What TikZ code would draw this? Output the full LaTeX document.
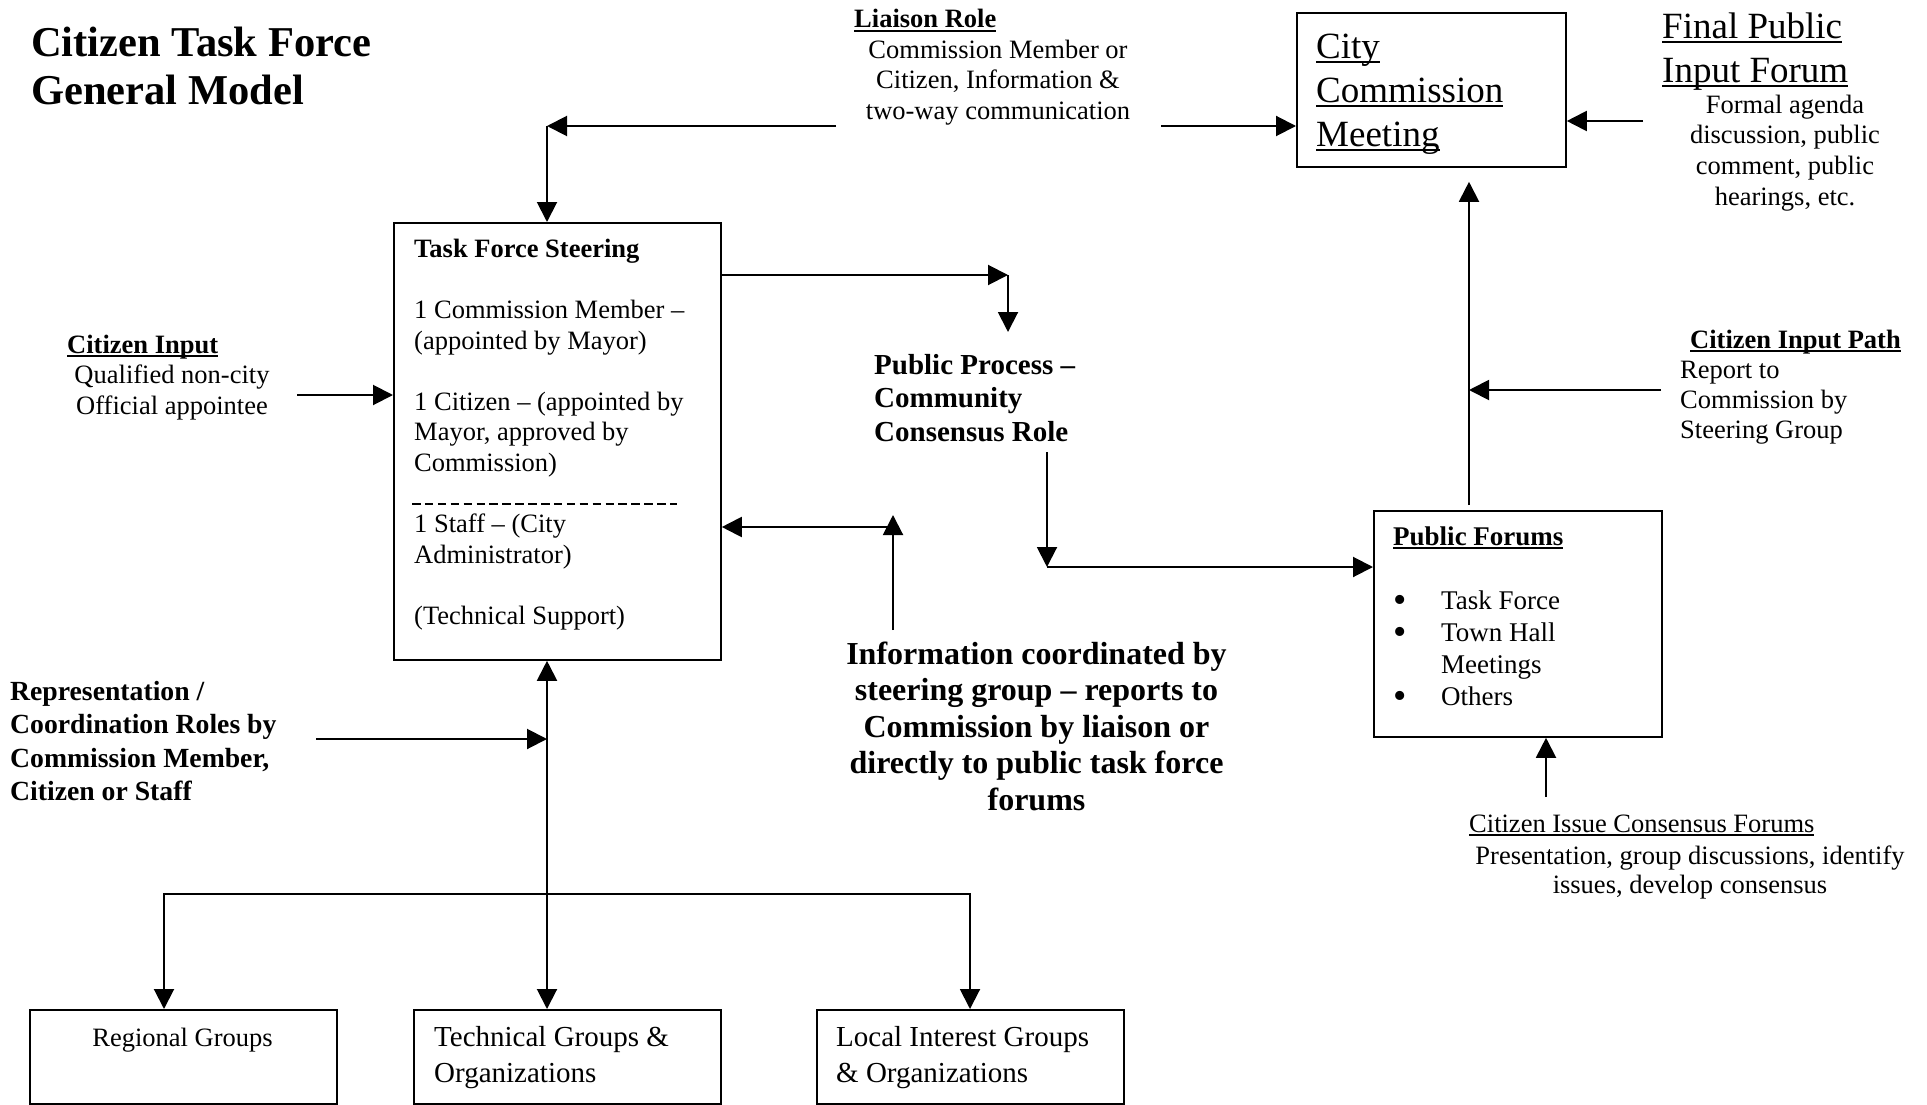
\documentclass[tikz,border=0pt]{standalone}
\usepackage{fontspec}
\setmainfont{Liberation Serif}
\usetikzlibrary{arrows.meta}
\newsavebox\ulbox
\newcommand\undl[1]{\sbox\ulbox{#1}\rlap{\rule[-0.14em]{\wd\ulbox}{0.06em}}\usebox\ulbox}
\newcommand\fl{\rule{0pt}{1em}}
\newcommand\fsz[2]{\fontsize{#1pt}{#2pt}\selectfont}
\newcommand\bul{\makebox[48pt][l]{\smash{\raisebox{-3.5pt}{\fsz{38}{32}•}}}}
\begin{document}
\begin{tikzpicture}[x=1pt, y=-1pt,
  box/.style={draw, line width=1.8pt, inner sep=0pt, anchor=north west},
  txt/.style={inner sep=0pt, anchor=north west, align=left},
  body/.style={font=\fsz{26.5}{30.6}},
  arr/.style={line width=2pt, -{Triangle[length=20pt, width=20pt]}}]
  \useasboundingbox (0,0) rectangle (1927,1105);

  % title and top row
  \node[txt, font=\bfseries\fsz{42.5}{48.5}] (title) at (31,13.5) {\fl Citizen Task Force\\General Model};
  \node[inner sep=0pt, anchor=base west, body] (liaisonhd) at (854,28) {\undl{\textbf{Liaison Role}}};
  \node[txt, anchor=north, align=center, body] (liaison) at (998,31.5) {\fl Commission Member or\\Citizen, Information \&\\two-way communication};
  \node[box, minimum width=269pt, minimum height=154pt] (city) at (1296,12) {};
  \node[txt, font=\fsz{37}{44}] (citytxt) at (1316,21) {\fl\undl{City}\\\undl{Commission}\\\undl{Meeting}};
  \node[txt, font=\fsz{37}{44}] (final) at (1662,1) {\fl\undl{Final Public}\\\undl{Input Forum}};
  \node[txt, anchor=north, align=center, body] (formal) at (1785,86.5) {\fl Formal agenda\\discussion, public\\comment, public\\hearings, etc.};

  % steering group
  \node[box, minimum width=327pt, minimum height=437pt] (steer) at (393,222) {};
  \node[txt, body] (steertxt) at (414,230.5) {\fl\textbf{Task Force Steering}\\\mbox{}\\1 Commission Member –\\(appointed by Mayor)\\\mbox{}\\1 Citizen – (appointed by\\Mayor, approved by\\Commission)\\\mbox{}\\1 Staff – (City\\Administrator)\\\mbox{}\\(Technical Support)};
  \draw[line width=1.2pt, dash pattern=on 8.5pt off 4.4pt] (412,504) -- (677,504);
  \node[inner sep=0pt, anchor=base west, body] (citinhd) at (67,353) {\undl{\textbf{Citizen Input}}};
  \node[txt, anchor=north, align=center, font=\fsz{26.5}{30.5}] (citin) at (172,357) {\fl Qualified non-city\\Official appointee};

  % middle labels
  \node[txt, font=\bfseries\fsz{29}{33.5}] (pp) at (874,345) {\fl Public Process –\\Community\\Consensus Role};
  \node[txt, anchor=north, align=center, font=\bfseries\fsz{32}{36.5}] (info) at (1036.5,632) {\fl Information coordinated by\\steering group – reports to\\Commission by liaison or\\directly to public task force\\forums};
  \node[txt, font=\bfseries\fsz{27.7}{33.4}] (rep) at (10,672.3) {\fl Representation /\\Coordination Roles by\\Commission Member,\\Citizen or Staff};

  % right column
  \node[inner sep=0pt, anchor=base west, body] (ciphd) at (1690,348) {\undl{\textbf{Citizen Input Path}}};
  \node[txt, font=\fsz{26.5}{30}] (cip) at (1680,352) {\fl Report to\\Commission by\\Steering Group};
  \node[box, minimum width=288pt, minimum height=226pt] (forums) at (1373,510) {};
  \node[txt, font=\fsz{27}{32}] (forumstxt) at (1393,518) {\fl\undl{\textbf{Public Forums}}\\\mbox{}\\\bul Task Force\\\bul Town Hall\\\hspace*{48pt}Meetings\\\bul Others};
  \node[inner sep=0pt, anchor=base west, body] (cicfhd) at (1469,832) {\undl{Citizen Issue Consensus Forums}};
  \node[txt, anchor=north, align=center, font=\fsz{26.5}{29.5}] (cicf) at (1690,837.5) {\fl Presentation, group discussions, identify\\issues, develop consensus};

  % groups
  \node[box, minimum width=307pt, minimum height=94pt] (reg) at (29,1009) {};
  \node[inner sep=0pt, anchor=base, body] (regtxt) at (182.5,1046) {Regional Groups};
  \node[box, minimum width=307pt, minimum height=94pt] (tech) at (413,1009) {};
  \node[txt, font=\fsz{29}{36}] (techtxt) at (434,1017) {\fl Technical Groups \&\\Organizations};
  \node[box, minimum width=307pt, minimum height=94pt] (loc) at (816,1009) {};
  \node[txt, font=\fsz{29}{36}] (loctxt) at (836,1017) {\fl Local Interest Groups\\\& Organizations};

  % connector ends
  \coordinate (liaL) at (836,126);
  \coordinate (liaC) at (547,126);
  \coordinate (liaR) at (1161,126);
  \coordinate (finE) at (1643,121);
  \coordinate (citE) at (297,395);
  \coordinate (ppC) at (1008,275);
  \coordinate (ppN) at (1008,332);
  \coordinate (ppS) at (1047,452);
  \coordinate (fC) at (1047,567);
  \coordinate (infS) at (893,630);
  \coordinate (infC) at (893,527);
  \coordinate (upX) at (1469,390);
  \coordinate (cipE) at (1661,390);
  \coordinate (cicfN) at (1546,797);
  \coordinate (repE) at (316,739);
  \coordinate (hub) at (547,894);
  \coordinate (regX) at (164,894);
  \coordinate (locX) at (970,894);

  \draw[arr] (liaL) -- (liaC);
  \draw[arr] (liaC) -- (liaC |- steer.north);
  \draw[arr] (liaR) -- (liaR -| city.west);
  \draw[arr] (finE) -- (finE -| city.east);
  \draw[arr] (citE) -- (citE -| steer.west);
  \draw[arr] (ppC -| steer.east) -- (ppC);
  \draw[arr] (ppC) -- (ppN);
  \draw[arr] (ppS) -- (fC);
  \draw[arr] (fC) -- (fC -| forums.west);
  \draw[arr] (infS) -- ([yshift=12pt]infC);
  \draw[arr] (infC) -- (infC -| steer.east);
  \draw[arr, shorten <=5pt, shorten >=14pt] (forums.north -| upX) -- (upX |- city.south);
  \draw[arr] (cipE) -- (upX);
  \draw[arr] (cicfN) -- (cicfN |- forums.south);
  \draw[arr] (repE) -- (repE -| hub);
  \draw[arr] (hub) -- (hub |- steer.south);
  \draw[arr] (hub) -| (reg.north -| regX);
  \draw[arr] (hub) -- (hub |- tech.north);
  \draw[arr] (hub) -| (loc.north -| locX);
\end{tikzpicture}
\end{document}
